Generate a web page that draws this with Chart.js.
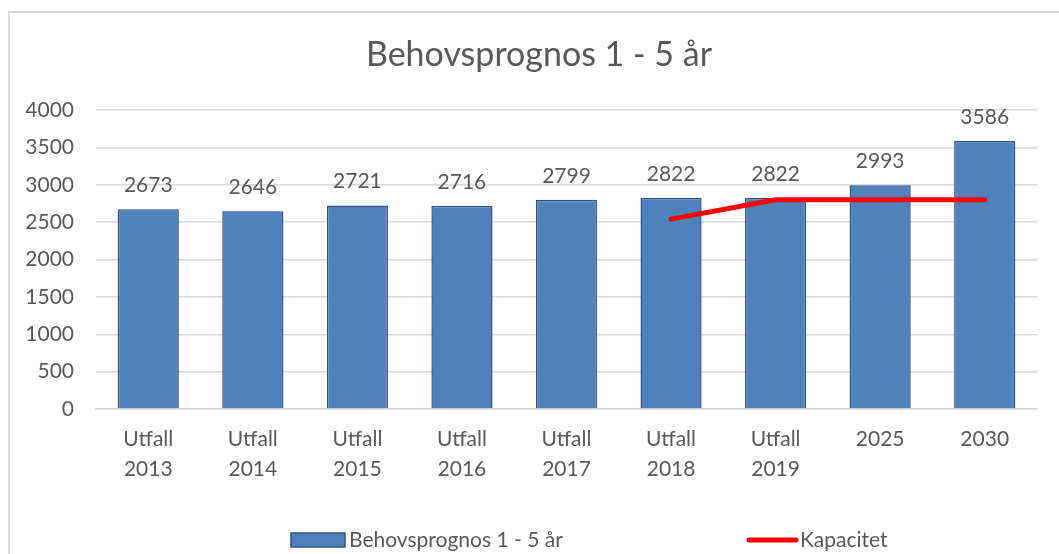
<!DOCTYPE html>
<html>
<head>
<meta charset="utf-8">
<script src="https://cdn.jsdelivr.net/npm/chart.js@4.4.0/dist/chart.umd.min.js"></script>
<style>
  html, body { margin: 0; padding: 0; background: #fff; }
  #wrap { width: 1059px; height: 554px; position: relative; }
</style>
</head>
<body>
<div id="wrap"><canvas id="behovChart" width="1059" height="554"></canvas></div>
<script>
// ---- data ----
const categories = [
  ['Utfall', '2013'], ['Utfall', '2014'], ['Utfall', '2015'], ['Utfall', '2016'],
  ['Utfall', '2017'], ['Utfall', '2018'], ['Utfall', '2019'], '2025', '2030'
];
const behovValues = [2673, 2646, 2721, 2716, 2799, 2822, 2822, 2993, 3586];
const kapacitetValues = [null, null, null, null, null, 2540, 2800, 2800, 2800];
const yTicks = [0, 500, 1000, 1500, 2000, 2500, 3000, 3500, 4000];

const chartTitle = 'Behovsprognos 1 - 5 år';
const behovLabel = 'Behovsprognos 1 - 5 år';
const kapacitetLabel = 'Kapacitet';

const FONT = 'Lato';
const TEXT = '#595959';
const GRID = '#d9d9d9';
const BAR_FILL = '#4F81BD';
const BAR_EDGE = '#2F528F';
const RED = '#FF0000';

// ram, rubrik, egen legend och dataetiketter
const extras = {
  id: 'extras',
  beforeDraw(chart) {
    const c = chart.ctx;
    c.save();
    c.strokeStyle = GRID;
    c.lineWidth = 2;
    c.strokeRect(9, 12, 1200, 700);
    // rubrik centrerad över hela ramen (som i Excel)
    c.font = '34px ' + FONT;
    c.fillStyle = TEXT;
    c.textAlign = 'center';
    c.textBaseline = 'middle';
    c.fillText(chartTitle, 539, 55);
    c.restore();
  },
  afterDatasetsDraw(chart) {
    const c = chart.ctx;
    const meta = chart.getDatasetMeta(0);
    c.save();
    c.font = '21px ' + FONT;
    c.fillStyle = TEXT;
    c.textAlign = 'center';
    c.textBaseline = 'middle';
    meta.data.forEach((bar, i) => {
      c.fillText(String(behovValues[i]), bar.x, bar.y - 24);
    });
    c.restore();
  },
  afterDraw(chart) {
    const c = chart.ctx;
    const y = 540;
    c.save();
    // stapel-legend
    c.fillStyle = BAR_FILL;
    c.strokeStyle = BAR_EDGE;
    c.lineWidth = 1.5;
    c.fillRect(291, y - 7, 54, 14);
    c.strokeRect(291, y - 7, 54, 14);
    c.font = '21px ' + FONT;
    c.fillStyle = TEXT;
    c.textAlign = 'left';
    c.textBaseline = 'middle';
    c.fillText(chart.data.datasets[0].label, 349, y);
    // linje-legend
    c.strokeStyle = RED;
    c.lineWidth = 5;
    c.lineCap = 'round';
    c.beginPath();
    c.moveTo(749, y);
    c.lineTo(796, y);
    c.stroke();
    c.fillText(chart.data.datasets[1].label, 800, y);
    c.restore();
  }
};

function rita() {
  const ctx = document.getElementById('behovChart').getContext('2d');
  new Chart(ctx, {
    type: 'bar',
    data: {
      labels: categories,
      datasets: [
        {
          type: 'bar',
          label: behovLabel,
          data: behovValues,
          backgroundColor: BAR_FILL,
          borderColor: BAR_EDGE,
          borderWidth: 1.5,
          barPercentage: 0.585,
          categoryPercentage: 1,
          order: 1
        },
        {
          type: 'line',
          label: kapacitetLabel,
          data: kapacitetValues,
          borderColor: RED,
          borderWidth: 5,
          borderCapStyle: 'round',
          borderJoinStyle: 'round',
          pointRadius: 0,
          fill: false,
          tension: 0,
          spanGaps: false,
          order: 0
        }
      ]
    },
    options: {
      responsive: false,
      animation: false,
      devicePixelRatio: 1,
      layout: { padding: { left: 0, right: 22, top: 110, bottom: 0 } },
      plugins: {
        legend: { display: false },
        tooltip: { enabled: false },
        title: { display: false }
      },
      scales: {
        x: {
          grid: { display: false, drawTicks: false },
          border: { display: true, color: GRID, width: 1.5 },
          ticks: {
            color: TEXT,
            padding: 15,
            maxRotation: 0,
            autoSkip: false,
            font: { family: FONT, size: 21, lineHeight: 1.45 }
          },
          afterFit(scale) { scale.height = 145; }
        },
        y: {
          min: 0,
          max: 4000,
          afterBuildTicks(scale) { scale.ticks = yTicks.map(v => ({ value: v })); },
          grid: { color: GRID, lineWidth: 1.5, drawTicks: false },
          border: { display: false },
          ticks: {
            color: TEXT,
            padding: 22,
            font: { family: FONT, size: 21 },
            callback: v => String(v)
          },
          afterFit(scale) { scale.width = 96; }
        }
      }
    },
    plugins: [extras]
  });
}

document.fonts.load('21px ' + FONT).then(rita, rita);
</script>
</body>
</html>
